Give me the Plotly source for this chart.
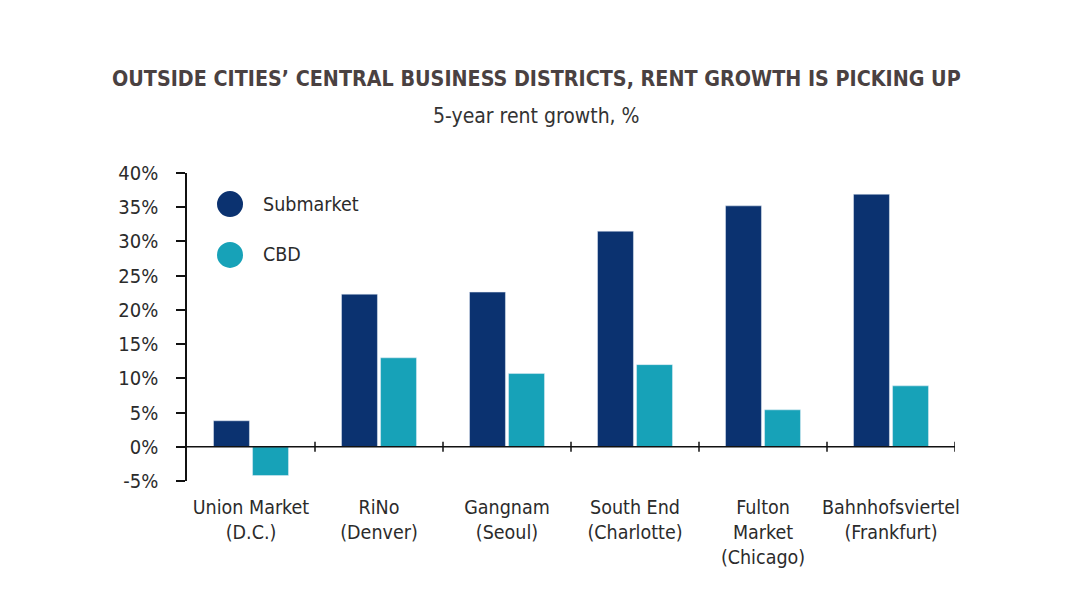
import plotly.graph_objects as go

categories = ["Union Market<br>(D.C.)", "RiNo<br>(Denver)", "Gangnam<br>(Seoul)",
              "South End<br>(Charlotte)", "Fulton<br>Market<br>(Chicago)",
              "Bahnhofsviertel<br>(Frankfurt)"]
submarket = [3.8, 22.3, 22.6, 31.5, 35.2, 36.9]
cbd = [-4.2, 13.0, 10.7, 12.0, 5.4, 8.9]
series_names = ["Submarket", "CBD"]
y_ticks = [-5, 0, 5, 10, 15, 20, 25, 30, 35, 40]
y_tick_labels = [f"{v}%" for v in y_ticks]

NAVY = "#0b3270"
TEAL = "#17a2b8"
FONT = "DejaVu Sans Condensed, Liberation Sans Narrow, sans-serif"
TXT = "#2b2b2b"

fig = go.Figure()
fig.add_trace(go.Bar(x=categories, y=submarket, name=series_names[0],
                     marker_color=NAVY, showlegend=False))
fig.add_trace(go.Bar(x=categories, y=cbd, name=series_names[1],
                     marker_color=TEAL, showlegend=False))

# x axis line at zero with crossing ticks between categories
shapes = [dict(type="line", xref="paper", yref="y", x0=0, x1=1, y0=0, y1=0,
               line=dict(color="#111", width=1.5))]
for i in range(len(categories)):
    shapes.append(dict(type="line", xref="x", yref="y", ysizemode="pixel",
                       yanchor=0, y0=-5, y1=5, x0=i + 0.5, x1=i + 0.5,
                       line=dict(color="#111", width=1.5)))

# legend drawn as circles + labels
leg_y = [0.899, 0.734]
leg_colors = [NAVY, TEAL]
annotations = []
for name, yy, col in zip(series_names, leg_y, leg_colors):
    shapes.append(dict(type="circle", xref="paper", yref="paper",
                       xsizemode="pixel", ysizemode="pixel",
                       xanchor=0.056, yanchor=yy, x0=-13, x1=13, y0=-13, y1=13,
                       fillcolor=col, line=dict(width=0)))
    annotations.append(dict(text=name, xref="paper", yref="paper", x=0.096, y=yy,
                            xanchor="left", yanchor="middle", showarrow=False,
                            font=dict(family=FONT, size=19.5, color=TXT)))

annotations.append(dict(text="<b>OUTSIDE CITIES’ CENTRAL BUSINESS DISTRICTS, RENT GROWTH IS PICKING UP</b>",
                        xref="paper", yref="paper", x=0.455, y=(481 - 79) / 308,
                        xanchor="center", yanchor="middle", showarrow=False,
                        font=dict(family=FONT, size=21.3, color="#4a4141")))
annotations.append(dict(text="5-year rent growth, %", xref="paper", yref="paper",
                        x=0.455, y=(481 - 116) / 308, xanchor="center", yanchor="middle",
                        showarrow=False, font=dict(family=FONT, size=21, color="#333")))

fig.update_layout(
    width=1080, height=599,
    margin=dict(l=179, r=133, t=165, b=126),
    paper_bgcolor="white", plot_bgcolor="white",
    barmode="group", bargap=0.39, bargroupgap=0.08,
    shapes=shapes, annotations=annotations,
    font=dict(family=FONT, color=TXT),
)
fig.update_xaxes(showline=False, showgrid=False, ticks="", tickfont=dict(size=19.5, color=TXT),
                 range=[-0.5, len(categories) - 0.5], fixedrange=True, ticklabelstandoff=12)
fig.update_yaxes(range=[-5, 40], tickvals=y_ticks, ticktext=y_tick_labels,
                 showline=True, linecolor="#111", linewidth=1.5, ticks="outside",
                 ticklen=9, tickwidth=1.5, tickcolor="#111", showgrid=False, zeroline=False,
                 tickfont=dict(size=20, color=TXT), ticklabelstandoff=14)

fig.write_html("out.html")
